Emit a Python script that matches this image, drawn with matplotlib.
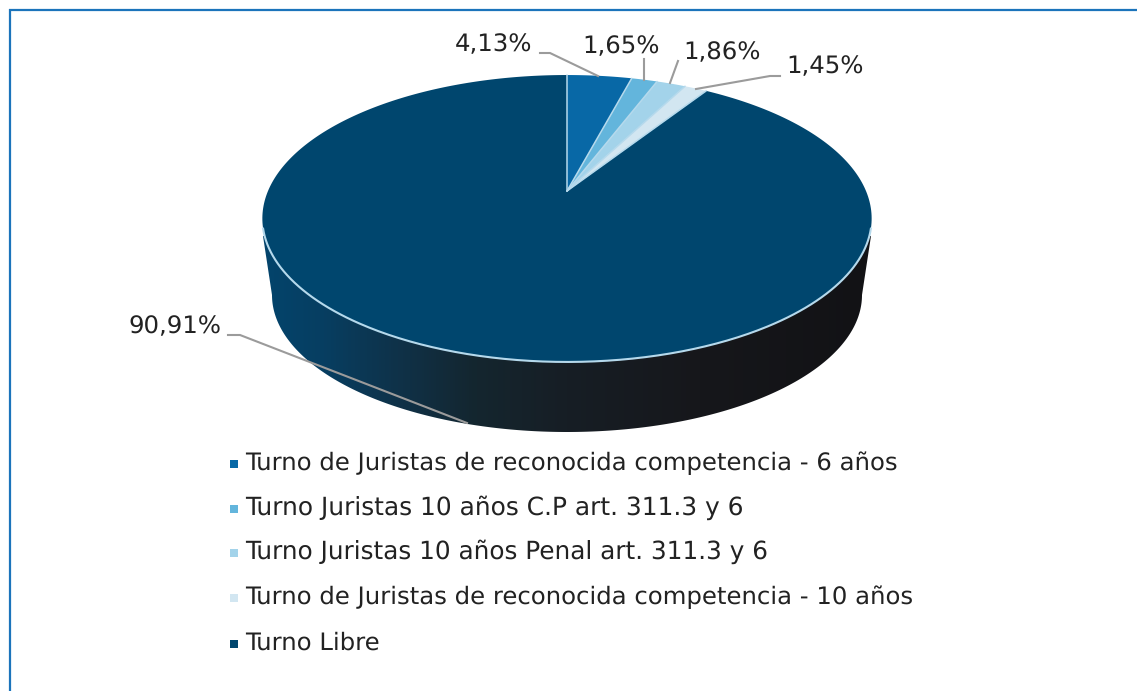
import numpy as np
import matplotlib
matplotlib.use("Agg")
import matplotlib.pyplot as plt
from matplotlib.colors import LinearSegmentedColormap
from matplotlib.patches import Polygon

categories = [
    "Turno de Juristas de reconocida competencia - 6 años",
    "Turno Juristas 10 años C.P art. 311.3 y 6",
    "Turno Juristas 10 años Penal art. 311.3 y 6",
    "Turno de Juristas de reconocida competencia - 10 años",
    "Turno Libre",
]
values = [4.13, 1.65, 1.86, 1.45, 90.91]
labels = ["4,13%", "1,65%", "1,86%", "1,45%", "90,91%"]
colors = ["#0868a6", "#63b5dc", "#a3d3ea", "#d2e6f1", "#00466e"]

W, H = 1137, 691
plt.rcParams["font.family"] = ["DejaVu Sans"]
plt.rcParams["text.hinting"] = "no_hinting"
fig = plt.figure(figsize=(W / 100, H / 100), dpi=100, facecolor="white")
ax = fig.add_axes([0, 0, 1, 1])
ax.set_xlim(0, W)
ax.set_ylim(H, 0)
ax.axis("off")

# perspective projection of the unit pie disc
CX, CY, R, C, A = 567.0, 191.0, 299.0, 0.1916, -101.6
EDGE = "#b5d9ec"


def project(theta):
    """theta: clockwise from 12 o'clock, radians."""
    u, v = np.sin(theta), np.cos(theta)
    d = 1 + C * v
    return CX + R * u / d, (A * v + CY) / d


# side wall
LW_A, LW_B, LW_CY = 295.0, 137.0, 295.0
t = np.linspace(np.pi, 0, 300)
low_x = CX + LW_A * np.cos(t)
low_y = LW_CY + LW_B * np.sin(t)
side_x = np.r_[263.0, low_x, 871.0]
side_y = np.r_[236.0, low_y, 236.0]
side = Polygon(np.c_[side_x, side_y], closed=True, fc="none", ec="none", zorder=1)
ax.add_patch(side)
cmap = LinearSegmentedColormap.from_list(
    "wall",
    [(0.0, "#03446c"), (0.10, "#073e61"), (0.22, "#0f3249"), (0.35, "#14262f"),
     (0.50, "#171e25"), (0.72, "#16171b"), (1.0, "#121215")],
)
im = ax.imshow(np.linspace(0, 1, 610)[None, :], extent=(262, 872, 440, 200),
               cmap=cmap, aspect="auto", zorder=1, interpolation="bilinear")
im.set_clip_path(side)
ax.set_xlim(0, W)
ax.set_ylim(H, 0)

# top face wedges: navy first, then the small slices
total = sum(values)
edges = np.r_[0, np.cumsum(values)] / total * 2 * np.pi
for i in [4, 0, 1, 2, 3]:
    th = np.linspace(edges[i], edges[i + 1], max(int((edges[i + 1] - edges[i]) * 60), 6))
    px, py = project(th)
    ax.fill(np.r_[CX, px], np.r_[CY, py], fc=colors[i], ec="none", zorder=2)

# pale borders: radial edges of the small slices and the front rim
for e in edges[:5]:
    px, py = project(np.array([e]))
    ax.plot([CX, px[0]], [CY, py[0]], color=EDGE, lw=1.1, zorder=3,
            solid_capstyle="round")
rim = np.linspace(np.radians(105), np.radians(255), 300)
px, py = project(rim)
ax.plot(px, py, color=EDGE, lw=1.5, zorder=3)

# leader lines
leaders = [
    ([540, 550, 598], [53, 53, 76]),
    ([644, 644], [59, 80]),
    ([678, 670], [61, 83]),
    ([780, 770, 696], [76, 76, 89]),
    ([228, 240, 467], [335, 335, 423]),
]
for lx, ly in leaders:
    ax.plot(lx, ly, color="#9b9b9b", lw=1.5, zorder=4, solid_joinstyle="miter")

# data labels
pos = [(494, 45), (621, 47), (722, 53), (825, 67), (175, 327)]
for s, (x, y) in zip(labels, pos):
    ax.text(x, y, s, ha="center", va="center", fontsize=17.6, color="#222222", zorder=5)

# legend
row_y = [463, 508, 552, 597, 643]
row_fs = [17.52, 17.92, 17.84, 17.52, 17.6]
for name, col, y, fs in zip(categories, colors, row_y, row_fs):
    ax.scatter([234], [y + 1], marker="s", s=30, c=col, linewidths=0, zorder=5)
    ax.text(245, y, name, ha="left", va="center", fontsize=fs, color="#222222", zorder=5)

# frame: top and left only, running off the picture
ax.plot([9, W], [9.5, 9.5], color="#1b74bb", lw=1.6, zorder=6, solid_capstyle="butt")
ax.plot([9.5, 9.5], [9, H], color="#1b74bb", lw=1.6, zorder=6, solid_capstyle="butt")

fig.savefig("out.png", dpi=100, facecolor="white")
